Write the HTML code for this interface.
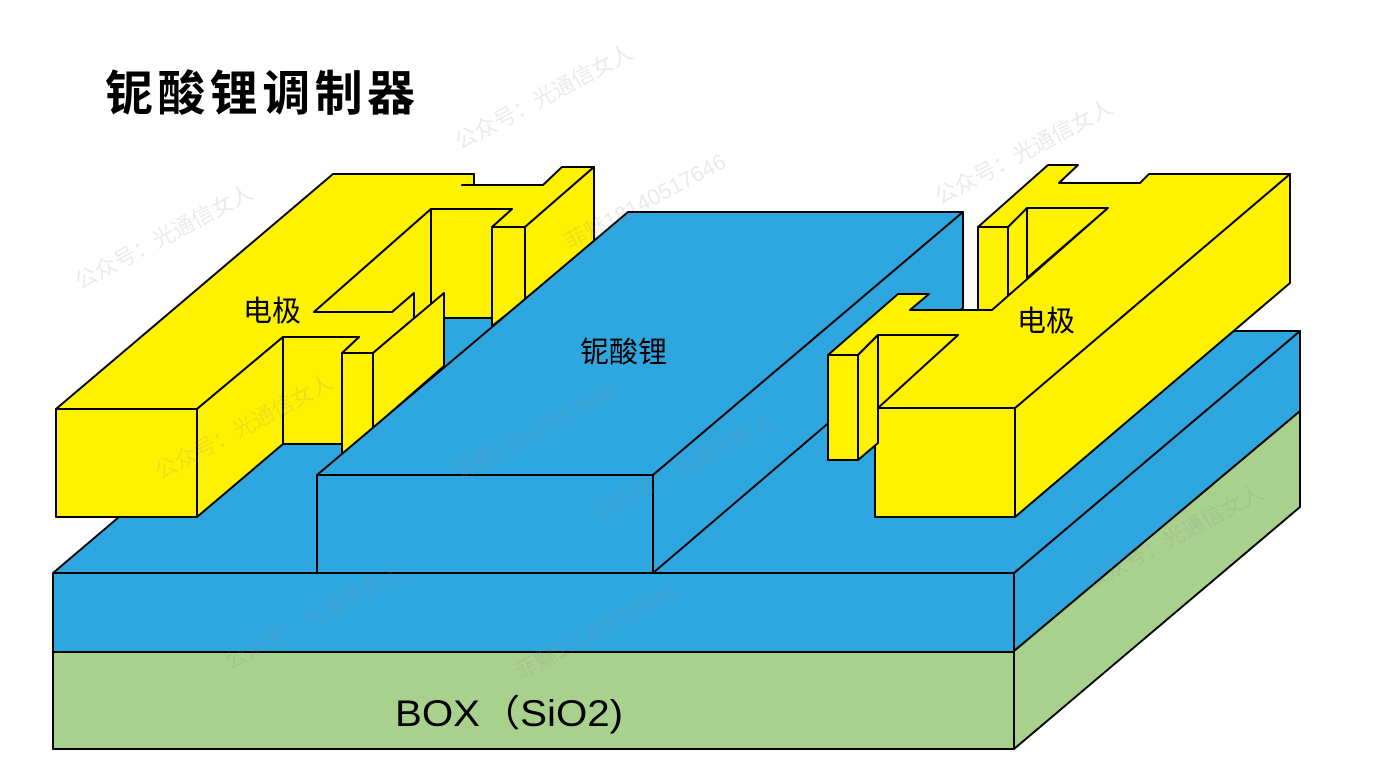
<!DOCTYPE html>
<html><head><meta charset="utf-8"><style>
html,body{margin:0;padding:0;background:#fff;}
svg{display:block;}
text{font-family:"Liberation Sans","Noto Sans CJK SC",sans-serif;}
</style></head><body>
<svg width="1384" height="779" viewBox="0 0 1384 779" xmlns="http://www.w3.org/2000/svg">
<g stroke="#000" stroke-width="2" stroke-linejoin="round">
<!-- slab -->
<polygon fill="#a9d18e" points="53,652 1014,652 1014,749 53,749"/>
<polygon fill="#a9d18e" points="1014,651 1300,411 1300,507 1014,749"/>
<polygon fill="#2ea6e0" points="53,573 1014,573 1014,652 53,652"/>
<polygon fill="#2ea6e0" points="1014,573 1300,331 1300,411 1014,651"/>
<polygon fill="#2ea6e0" points="53,573 1014,573 1300,331 338,331"/>
<polygon fill="#2ea6e0" stroke="none" points="330,340 420,316 610,316 610,340"/>
<!-- left electrode -->
<g fill="#fff200">
<polygon points="56,409 333,174 474,174 474,185 462,185 543,185 562,167 594,167 525,227 492,227 512,209 431,209 314,312 392,312 414,293 444,293 373,353 342,353 359,337 283,337 197,409"/>
<polygon points="314,312 431,209 431,318 414,318 414,293 392,312"/>
<polygon points="431,209 512,209 492,227 492,318 431,318"/>
<polygon points="492,227 525,227 525,300 492,326"/>
<polygon points="525,227 594,167 594,245 525,300"/>
<polygon points="283,337 359,337 342,353 342,444 283,444"/>
<polygon points="342,353 373,353 373,428 342,454"/>
<polygon points="373,353 444,293 444,366 373,428"/>
<polygon points="56,409 197,409 197,517 56,517"/>
<polygon points="197,409 283,337 283,444 197,517"/>
</g>
<!-- ridge -->
<polygon fill="#2ea6e0" points="317,475 653,475 963,212 628,212"/>
<polygon fill="#2ea6e0" points="317,475 653,475 653,573 317,573"/>
<polygon fill="#2ea6e0" points="653,475 963,212 963,308 653,573"/>
<!-- right electrode -->
<g fill="#fff200">
<polygon points="1015,408 1290,174 1290,283 1015,517"/>
<polygon points="1027,208 1108,208 1027,278"/>
<polygon points="978,227 1008,227 1008,310 978,310"/>
<polygon points="1008,227 1027,208 1027,280 1008,296"/>
<polygon points="875,408 1015,408 1290,174 1149,174 1140,183 1059,183 1078,165 1048,165 978,227 1008,227 1027,208 1108,208 992,310 910,310 929,294 898,294 828,355 858,355 878,335 958,335 877,408"/>
<polygon points="878,335 958,335 878,408"/>
<polygon points="875,408 1015,408 1015,517 875,517 875,443 865,452 865,408"/>
<polygon points="858,355 878,335 878,443 858,460"/>
<polygon points="828,355 858,355 858,460 828,460"/>
</g>
</g>
<!-- watermarks -->
<g fill="#888" fill-opacity="0.18" font-size="22" font-family="Liberation Serif,Noto Serif CJK SC,serif">
<text transform="translate(460,150) rotate(-28)">公众号：光通信女人</text>
<text transform="translate(570,250) rotate(-28)">菲魅18140517646</text>
<text transform="translate(80,290) rotate(-28)">公众号：光通信女人</text>
<text transform="translate(940,205) rotate(-28)">公众号：光通信女人</text>
<text transform="translate(160,480) rotate(-28)">公众号：光通信女人</text>
<text transform="translate(460,480) rotate(-28)">菲魅18140517646</text>
<text transform="translate(600,520) rotate(-28)">公众号：光通信女人</text>
<text transform="translate(230,670) rotate(-28)">公众号：光通信女人</text>
<text transform="translate(520,680) rotate(-28)">菲魅18140517646</text>
<text transform="translate(1090,590) rotate(-28)">公众号：光通信女人</text>
</g>
<text x="105" y="110" font-size="48" font-weight="bold" fill="#000" textLength="310" lengthAdjust="spacing">铌酸锂调制器</text>
<text x="243" y="321" font-size="29" fill="#000">电极</text>
<text x="580" y="362" font-size="29" fill="#000">铌酸锂</text>
<text x="1017" y="331" font-size="29" fill="#000">电极</text>
<text x="395" y="726" font-size="37" fill="#000" textLength="228" lengthAdjust="spacingAndGlyphs">BOX（SiO2)</text>
</svg>
</body></html>
